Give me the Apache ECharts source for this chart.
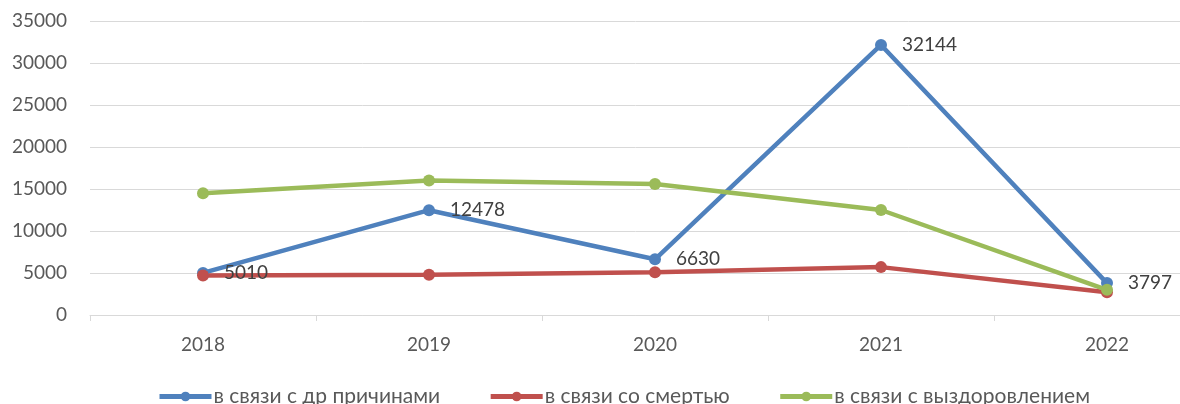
<!DOCTYPE html>
<html><head><meta charset="utf-8">
<script src="https://cdn.jsdelivr.net/npm/echarts@6/dist/echarts.min.js"></script>
<style>html,body{margin:0;padding:0;background:#fff}#c{width:1180px;height:404px}</style>
</head><body><div id="c"></div>
<script>
const categories = ['2018', '2019', '2020', '2021', '2022'];
const seriesNames = ['в связи с др причинами', 'в связи со смертью', 'в связи с выздоровлением'];
const otherReasons = [5010, 12478, 6630, 32144, 3797];
const death = [4700, 4800, 5100, 5700, 2700];
const recovery = [14500, 16000, 15600, 12500, 3000];
const colors = ['#4F81BD', '#C0504D', '#9BBB59'];
const font = 'Lato, "Open Sans", sans-serif';

const chart = echarts.init(document.getElementById('c'), null, {renderer: 'canvas'});
function mk(name, data, color, labels) {
  return {
    name, type: 'line', data, color,
    symbol: 'circle', symbolSize: 12,
    lineStyle: {width: 4.5, color},
    itemStyle: {color},
    emphasis: {disabled: true},
    z: 2,
    label: labels ? {show: true, position: 'right', distance: 15, color: '#404040', fontSize: 19, fontFamily: font} : {show: false}
  };
}
chart.setOption({
  animation: false,
  grid: {left: 90, top: 21, width: 1130, height: 294, outerBoundsMode: 'none', containLabel: false},
  xAxis: {
    type: 'category', data: categories, boundaryGap: true,
    axisLine: {lineStyle: {color: '#d9d9d9', width: 1}},
    axisTick: {show: true, length: 6, lineStyle: {color: '#d9d9d9'}},
    axisLabel: {color: '#595959', fontSize: 19, fontFamily: font, margin: 20}
  },
  yAxis: {
    type: 'value', min: 0, max: 35000, interval: 5000,
    axisLine: {show: false}, axisTick: {show: false},
    splitLine: {lineStyle: {color: '#d9d9d9', width: 1}},
    axisLabel: {color: '#595959', fontSize: 19, fontFamily: font, margin: 23, formatter: v => String(v)}
  },
  legend: {
    bottom: -8, left: 152,
    itemWidth: 52, itemHeight: 12, itemGap: 48,
    lineStyle: {width: 5},
    textStyle: {color: '#595959', fontSize: 21, fontFamily: font, padding: [0, 0, 0, -3]},
    data: seriesNames
  },
  series: [
    mk(seriesNames[0], otherReasons, colors[0], true),
    mk(seriesNames[1], death, colors[1], false),
    mk(seriesNames[2], recovery, colors[2], false)
  ]
});
</script></body></html>
